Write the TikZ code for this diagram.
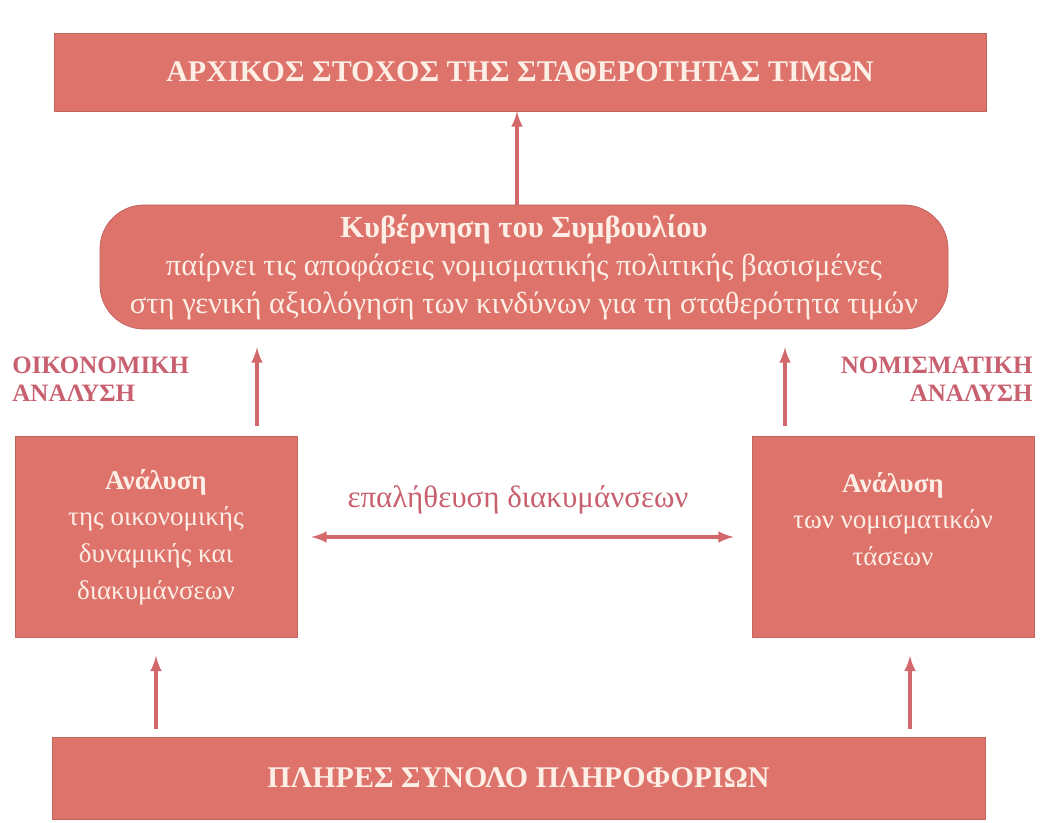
\documentclass[tikz,border=0pt]{standalone}
\usepackage{fontspec}
\setmainfont{Liberation Serif}
\usetikzlibrary{arrows,positioning}

\definecolor{boxred}{RGB}{221,115,106}
\definecolor{arrowred}{RGB}{210,104,108}
\definecolor{labelred}{RGB}{200,96,112}
\definecolor{paletext}{RGB}{253,238,230}

\tikzset{
  banner/.style={rectangle, fill=boxred, draw=boxred!88!black, text=paletext,
    font=\bfseries\fontsize{15}{18}\selectfont, minimum width=466pt, minimum height=39pt},
  council/.style={rectangle, rounded corners=22pt, fill=boxred, draw=boxred!88!black,
    text=paletext, align=center, font=\fontsize{15.3}{19}\selectfont,
    minimum width=424pt, minimum height=62pt},
  analysis/.style={rectangle, fill=boxred, draw=boxred!88!black, text=paletext,
    align=center, font=\fontsize{13.5}{18.3}\selectfont,
    minimum width=141pt, minimum height=100.5pt},
  sidelabel/.style={text=labelred, font=\bfseries\fontsize{12.5}{14}\selectfont, inner sep=0pt},
  flow/.style={draw=arrowred, line width=1.6pt}
}

\begin{document}
\begin{tikzpicture}[>=latex, x=0.5pt, y=-0.5pt]
	\useasboundingbox (0,0) rectangle (1045,823);
	% boxes
	\node[banner] (goal) at (520,72) {ΑΡΧΙΚΟΣ ΣΤΟΧΟΣ ΤΗΣ ΣΤΑΘΕΡΟΤΗΤΑΣ ΤΙΜΩΝ};
	\node[council] (gov) at (524,267) {\textbf{Κυβέρνηση του Συμβουλίου}\\
		παίρνει τις αποφάσεις νομισματικής πολιτικής βασισμένες\\
		στη γενική αξιολόγηση των κινδύνων για τη σταθερότητα τιμών};
	\node[analysis] (econ) at (156,537) {\textbf{Ανάλυση}\\της οικονομικής\\δυναμικής και\\διακυμάνσεων};
	\node[analysis] (mon) at (893,537) {\textbf{Ανάλυση}\\των νομισματικών\\τάσεων\\\mbox{}};
	\node[banner, minimum width=466.5pt, minimum height=41pt] (info) at (518.5,778) {ΠΛΗΡΕΣ ΣΥΝΟΛΟ ΠΛΗΡΟΦΟΡΙΩΝ};
	% labels
	\node[sidelabel, align=left, anchor=north west] (econlbl) at (12,357) {ΟΙΚΟΝΟΜΙΚΗ\\ΑΝΑΛΥΣΗ};
	\node[sidelabel, align=right, anchor=north east] (monlbl) at (1033,357) {ΝΟΜΙΣΜΑΤΙΚΗ\\ΑΝΑΛΥΣΗ};
	\node[text=labelred, font=\fontsize{15.5}{18}\selectfont] (check) at (518,500) {επαλήθευση διακυμάνσεων};
	% arrows
	\draw[flow,->] (gov.north -| 517,0) -- (goal.south -| 517,0);
	\draw[flow,->,shorten <=5pt,shorten >=9pt] ([xshift=50.5pt]econ.north) -- ([xshift=50.5pt]econ.north |- gov.south);
	\draw[flow,->,shorten <=5pt,shorten >=9pt] ([xshift=-54pt]mon.north) -- ([xshift=-54pt]mon.north |- gov.south);
	\draw[flow,<->,shorten <=7pt,shorten >=9pt] (econ) -- (mon);
	\draw[flow,->,shorten <=4pt,shorten >=9pt] (econ.south |- info.north) -- (econ.south);
	\draw[flow,->,shorten <=4pt,shorten >=9pt] ([xshift=8.5pt]mon.south |- info.north) -- ([xshift=8.5pt]mon.south);
\end{tikzpicture}
\end{document}
